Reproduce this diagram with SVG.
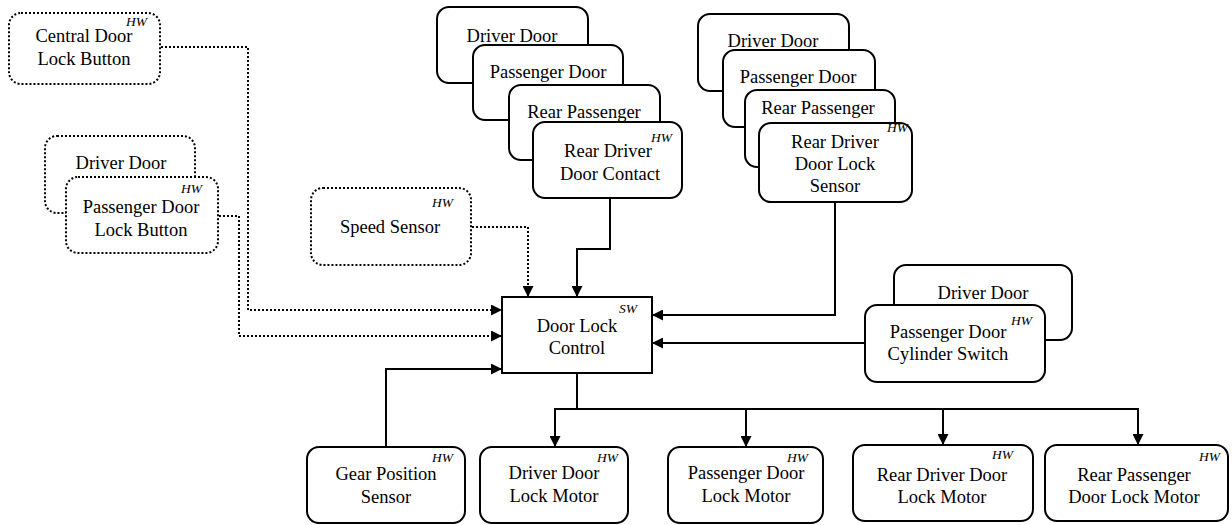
<svg xmlns="http://www.w3.org/2000/svg" width="1232" height="525" viewBox="0 0 1232 525">
<style>
.box{fill:#fff;stroke:#000;stroke-width:2}
.dot{fill:#fff;stroke:#000;stroke-width:2;stroke-dasharray:2 2}
.t{font-family:'Liberation Serif','Times New Roman',Tinos,'DejaVu Serif',serif;font-size:18.5px;text-anchor:middle;fill:#000}
.hw{font-family:'Liberation Serif','Times New Roman',Tinos,'DejaVu Serif',serif;font-size:13.5px;font-style:italic;text-anchor:end;fill:#000}
.c{fill:none;stroke:#000;stroke-width:2}
.cd{fill:none;stroke:#000;stroke-width:2;stroke-dasharray:2 2}
</style>
<defs>
<marker id="arr" markerUnits="userSpaceOnUse" markerWidth="11" markerHeight="11" refX="10" refY="5" orient="auto" viewBox="0 0 10 10">
<path d="M0,0 L10,5 L0,10 z" fill="#000"/>
</marker>
</defs>
<g id="connectors">
<polyline class="cd" points="161,47 248,47 248,310 502,310" marker-end="url(#arr)"/>
<polyline class="cd" points="219,216 239,216 239,336 502,336" marker-end="url(#arr)"/>
<polyline class="cd" points="472,227 528,227 528,297" marker-end="url(#arr)"/>
<polyline class="c" points="610,198 610,249 577,249 577,297" marker-end="url(#arr)"/>
<polyline class="c" points="835,202 835,315 652,315" marker-end="url(#arr)"/>
<polyline class="c" points="865,343 652,343" marker-end="url(#arr)"/>
<polyline class="c" points="386,447 386,369 502,369" marker-end="url(#arr)"/>
<polyline class="c" points="577,373 577,409"/>
<polyline class="c" points="554,409 1138,409"/>
<polyline class="c" points="555,408 555,447" marker-end="url(#arr)"/>
<polyline class="c" points="746,408 746,447" marker-end="url(#arr)"/>
<polyline class="c" points="943,408 943,445" marker-end="url(#arr)"/>
<polyline class="c" points="1138,408 1138,445" marker-end="url(#arr)"/>
</g>
<g id="central-door-lock-button">
<rect class="dot" x="9" y="13" width="151" height="71" rx="12"/>
<text class="hw" x="147" y="26">HW</text>
<text class="t" x="84" y="42">Central Door</text>
<text class="t" x="84" y="65">Lock Button</text>
</g>
<g id="door-lock-button">
<rect class="dot" x="45" y="136" width="150" height="77" rx="12"/>
<text class="t" x="121" y="169">Driver Door</text>
<rect class="dot" x="66" y="177" width="152" height="76" rx="12"/>
<text class="hw" x="202" y="193">HW</text>
<text class="t" x="141" y="213">Passenger Door</text>
<text class="t" x="141" y="236">Lock Button</text>
</g>
<g id="speed-sensor">
<rect class="dot" x="311" y="188" width="160" height="77" rx="12"/>
<text class="hw" x="453" y="207">HW</text>
<text class="t" x="390" y="233">Speed Sensor</text>
</g>
<g id="door-contact">
<rect class="box" x="437" y="7" width="151" height="76" rx="12"/>
<text class="t" x="512" y="42">Driver Door</text>
<rect class="box" x="473" y="45" width="150" height="75" rx="12"/>
<text class="t" x="548" y="78">Passenger Door</text>
<rect class="box" x="509" y="85" width="151" height="75" rx="12"/>
<text class="t" x="584" y="118">Rear Passenger</text>
<rect class="box" x="533" y="122" width="149" height="76" rx="12"/>
<text class="hw" x="672" y="142">HW</text>
<text class="t" x="608" y="157">Rear Driver</text>
<text class="t" x="610" y="180">Door Contact</text>
</g>
<g id="door-lock-sensor">
<rect class="box" x="698" y="14" width="151" height="77" rx="12"/>
<text class="t" x="773" y="47">Driver Door</text>
<rect class="box" x="723" y="50" width="152" height="77" rx="12"/>
<text class="t" x="798" y="83">Passenger Door</text>
<rect class="box" x="745" y="90" width="150" height="77" rx="12"/>
<text class="t" x="818" y="114">Rear Passenger</text>
<rect class="box" x="759" y="123" width="153" height="79" rx="12"/>
<text class="hw" x="908" y="132">HW</text>
<text class="t" x="835" y="148">Rear Driver</text>
<text class="t" x="835" y="170">Door Lock</text>
<text class="t" x="835" y="192">Sensor</text>
</g>
<g id="door-lock-control">
<rect class="box" x="502" y="297" width="150" height="76"/>
<text class="hw" x="637" y="313">SW</text>
<text class="t" x="577" y="332">Door Lock</text>
<text class="t" x="577" y="354">Control</text>
</g>
<g id="cylinder-switch">
<rect class="box" x="894" y="265" width="178" height="75" rx="12"/>
<text class="t" x="983" y="299">Driver Door</text>
<rect class="box" x="865" y="305" width="180" height="77" rx="12"/>
<text class="hw" x="1032" y="325">HW</text>
<text class="t" x="948" y="338">Passenger Door</text>
<text class="t" x="948" y="360">Cylinder Switch</text>
</g>
<g id="gear-position-sensor">
<rect class="box" x="307" y="447" width="158" height="76" rx="12"/>
<text class="hw" x="453" y="462">HW</text>
<text class="t" x="386" y="480">Gear Position</text>
<text class="t" x="386" y="503">Sensor</text>
</g>
<g id="driver-door-lock-motor">
<rect class="box" x="480" y="447" width="148" height="76" rx="12"/>
<text class="hw" x="618" y="462">HW</text>
<text class="t" x="554" y="479">Driver Door</text>
<text class="t" x="554" y="502">Lock Motor</text>
</g>
<g id="passenger-door-lock-motor">
<rect class="box" x="668" y="447" width="155" height="76" rx="12"/>
<text class="hw" x="808" y="462">HW</text>
<text class="t" x="746" y="479">Passenger Door</text>
<text class="t" x="746" y="502">Lock Motor</text>
</g>
<g id="rear-driver-door-lock-motor">
<rect class="box" x="853" y="445" width="180" height="76" rx="12"/>
<text class="hw" x="1013" y="459">HW</text>
<text class="t" x="942" y="481">Rear Driver Door</text>
<text class="t" x="942" y="503">Lock Motor</text>
</g>
<g id="rear-passenger-door-lock-motor">
<rect class="box" x="1045" y="445" width="183" height="76" rx="12"/>
<text class="hw" x="1220" y="461">HW</text>
<text class="t" x="1134" y="481">Rear Passenger</text>
<text class="t" x="1134" y="503">Door Lock Motor</text>
</g>
</svg>
